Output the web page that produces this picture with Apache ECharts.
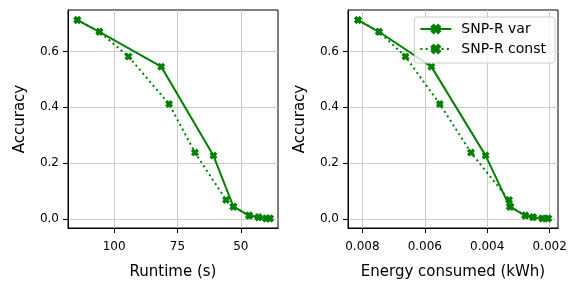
<!DOCTYPE html>
<html>
<head>
<meta charset="utf-8">
<script src="https://cdn.jsdelivr.net/npm/echarts@6/dist/echarts.min.js"></script>
<style>html,body{margin:0;padding:0;background:#fff;}#c{width:581px;height:288px;}</style>
</head>
<body>
<div id="c"></div>
<script>
// Data
const varRuntime = [114.5, 105.8, 81.4, 60.8, 52.9, 46.7, 43.0, 40.0, 38.5];
const varEnergy = [0.00814, 0.00747, 0.00579, 0.00405, 0.00328, 0.00278, 0.00253, 0.00223, 0.00205];
const varAcc = [0.713, 0.671, 0.546, 0.227, 0.044, 0.012, 0.006, 0.002, 0.002];

const constRuntime = [114.5, 105.8, 94.3, 78.3, 68.1, 55.8, 52.9, 46.7, 43.0, 40.0, 38.5];
const constEnergy = [0.00814, 0.00747, 0.00662, 0.00552, 0.00452, 0.00330, 0.00325, 0.00278, 0.00253, 0.00223, 0.00205];
const constAcc = [0.713, 0.671, 0.582, 0.412, 0.238, 0.068, 0.044, 0.012, 0.006, 0.002, 0.002];

const yTicks = [0.0, 0.2, 0.4, 0.6];
const runtimeTicks = [50, 75, 100];
const energyTicks = [0.002, 0.004, 0.006, 0.008];

const seriesNames = ['SNP-R var', 'SNP-R const'];

const zip = (a, b) => a.map((v, i) => [v, b[i]]);
const green = '#008000';
const xMarker = 'path://M0,3 L3,0 L5,2 L7,0 L10,3 L8,5 L10,7 L7,10 L5,8 L3,10 L0,7 L2,5 Z';
const font = 'DejaVu Sans';

function xAxis(idx, min, max, ticks, name, fmt) {
  return {
    type: 'value', gridIndex: idx, inverse: true, min: min, max: max,
    name: name, nameLocation: 'middle', nameGap: 37,
    nameTextStyle: {fontFamily: font, fontSize: 15, color: '#000'},
    axisLine: {show: true, onZero: false, lineStyle: {color: '#000', width: 1}},
    axisTick: {show: true, length: 5, customValues: ticks, lineStyle: {color: '#000', width: 1}},
    axisLabel: {customValues: ticks, margin: 13, fontFamily: font, fontSize: 12, color: '#000', formatter: fmt},
    splitLine: {show: true, lineStyle: {color: '#cccccc', width: 1}}
  };
}
function yAxis(idx) {
  return {
    type: 'value', gridIndex: idx, min: -0.0325, max: 0.749,
    name: 'Accuracy', nameLocation: 'middle', nameGap: 40,
    nameTextStyle: {fontFamily: font, fontSize: 15, color: '#000'},
    axisLine: {show: true, onZero: false, lineStyle: {color: '#000', width: 1}},
    axisTick: {show: true, length: 5, customValues: yTicks, lineStyle: {color: '#000', width: 1}},
    axisLabel: {customValues: yTicks, margin: 9, fontFamily: font, fontSize: 12, color: '#000', formatter: v => v.toFixed(1)},
    splitLine: {show: true, lineStyle: {color: '#cccccc', width: 1}}
  };
}
function mkSeries(name, xi, data, dotted) {
  return {
    name: name, type: 'line', xAxisIndex: xi, yAxisIndex: xi, data: data,
    symbol: xMarker, symbolSize: 8, showSymbol: true,
    lineStyle: {color: green, width: 2, type: dotted ? [2, 3.3] : 'solid'},
    itemStyle: {color: green},
    emphasis: {disabled: true}, animation: false, z: 3
  };
}

const chart = echarts.init(document.getElementById('c'), null, {renderer: 'canvas'});
chart.setOption({
  animation: false,
  grid: [
    {left: 68, right: 303, top: 10, bottom: 60, show: true, borderColor: '#000', borderWidth: 1, backgroundColor: 'transparent'},
    {left: 348, right: 23, top: 10, bottom: 60, show: true, borderColor: '#000', borderWidth: 1, backgroundColor: 'transparent'}
  ],
  xAxis: [
    xAxis(0, 35.3, 118.2, runtimeTicks, 'Runtime (s)', v => String(v)),
    xAxis(1, 0.001731, 0.008462, energyTicks, 'Energy consumed (kWh)', v => v.toFixed(3))
  ],
  yAxis: [yAxis(0), yAxis(1)],
  legend: {
    data: seriesNames, orient: 'vertical', right: 26, top: 17,
    backgroundColor: 'rgba(255,255,255,0.8)', borderColor: '#cccccc', borderWidth: 1, borderRadius: 3,
    padding: [5, 9, 7, 5], itemWidth: 31, itemHeight: 14, itemGap: 6,
    textStyle: {fontFamily: font, fontSize: 14, color: '#000', padding: [0, 0, 0, 5]}
  },
  series: [
    mkSeries(seriesNames[0], 0, zip(varRuntime, varAcc), false),
    mkSeries(seriesNames[1], 0, zip(constRuntime, constAcc), true),
    mkSeries(seriesNames[0], 1, zip(varEnergy, varAcc), false),
    mkSeries(seriesNames[1], 1, zip(constEnergy, constAcc), true)
  ]
});
</script>
</body>
</html>
